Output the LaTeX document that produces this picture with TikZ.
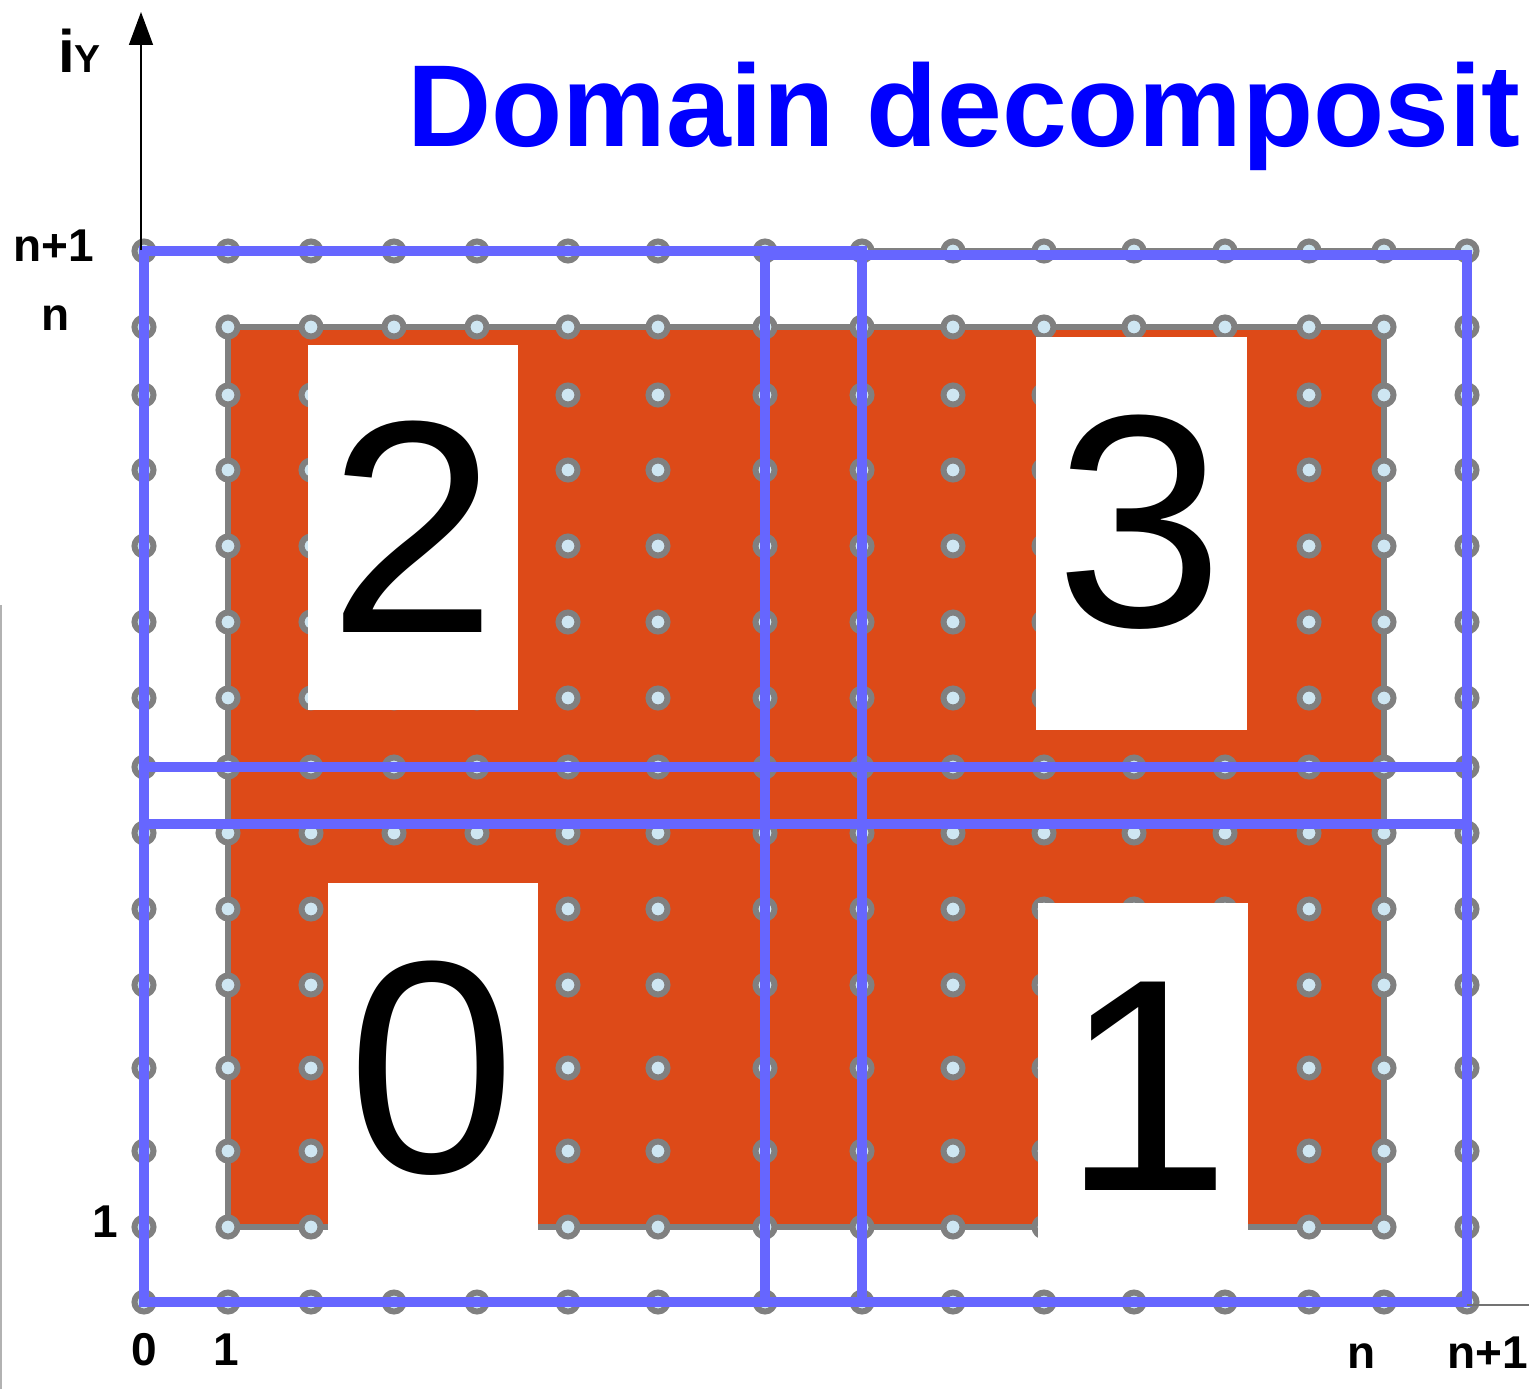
\documentclass[tikz,border=0pt]{standalone}
\usepackage{fontspec}
\setmainfont{Liberation Sans}
\usetikzlibrary{arrows.meta}
\definecolor{dom}{RGB}{221,74,24}
\definecolor{dgray}{RGB}{128,128,128}
\definecolor{dotfill}{RGB}{206,230,242}
\definecolor{dblue}{RGB}{102,102,255}
\definecolor{ttl}{RGB}{0,0,255}
\begin{document}
\begin{tikzpicture}[x=1pt,y=-1pt,
  gline/.style={draw=dgray,line width=6pt},
  griddot/.style={draw=dgray,fill=dotfill,line width=6pt},
  bline/.style={draw=dblue,line width=10pt},
  wbox/.style={fill=white},
  digit/.style={anchor=base,inner sep=0pt,font=\fontsize{303}{303}\selectfont},
  axlab/.style={anchor=base,inner sep=0pt,font=\bfseries\fontsize{46}{46}\selectfont}]
\useasboundingbox (0,0) rectangle (1529,1389);
\fill[white] (0,0) rectangle (1529,1389);
% stray frame lines
\draw[draw=black!30,line width=2pt] (1,605) -- (1,1389);
% orange domain
\fill[dom] (228,327) rectangle (1384,1227);
\draw[gline] (144,251) rectangle (1467,1302);
\draw[gline] (228,327) rectangle (1384,1227);
% grid points
\foreach \x in {144,228,311,394,477,568,658,765,862,953,1044,1134,1225,1309,1384,1467}
  \foreach \y in {251,327,395,470,546,622,698,767,833,909,985,1068,1151,1227,1302}
    \path[griddot] (\x,\y) circle[radius=9.5];
% white label boxes
\fill[wbox] (308,345) rectangle (518,710);
\fill[wbox] (1036,337) rectangle (1247,730);
\fill[wbox] (328,883) rectangle (538,1243);
\fill[wbox] (1038,903) rectangle (1248,1243);
% subdomain boxes
\draw[bline] (144,251) rectangle (862,824);
\draw[bline] (765,255) rectangle (1467,824);
\draw[bline] (144,767) rectangle (862,1302);
\draw[bline] (765,767) rectangle (1467,1302);
% digits
\node[digit] (d2) at (413,632) {2};
\node[digit] (d3) at (1140,626) {3};
\node[digit] (d0) at (432,1172) {0};
\node[digit] (d1) at (1147,1190) {1};
% axes
\coordinate (ybot) at (141,250);
\coordinate (ytop) at (141,12);
\draw[line width=1.5pt,-{Triangle[length=33pt,width=24pt]}] (ybot) -- (ytop);
\coordinate (xa) at (1467,1305);
\coordinate (xb) at (1529,1305);
\draw[draw=black!55,line width=1.5pt] (xa) -- (xb);
\node[anchor=base west,inner sep=0pt,font=\bfseries] (iy) at (58,73)
  {\fontsize{60}{60}\selectfont i\fontsize{39}{39}\selectfont Y};
% axis labels
\node[axlab] (ln1) at (54,261) {n+1};
\node[axlab] (ln) at (56,330) {n};
\node[axlab] (l1) at (105,1237) {1};
\node[axlab] (b0) at (144,1365) {0};
\node[axlab] (b1) at (226,1365) {1};
\node[axlab] (bn) at (1362,1368) {n};
\node[axlab] (bn1) at (1488,1368) {n+1};
% title
\node[anchor=base west,inner sep=0pt,text=ttl,font=\bfseries\fontsize{116.5}{117}\selectfont] (title) at (407,146) {Domain decomposit};
\end{tikzpicture}
\end{document}
